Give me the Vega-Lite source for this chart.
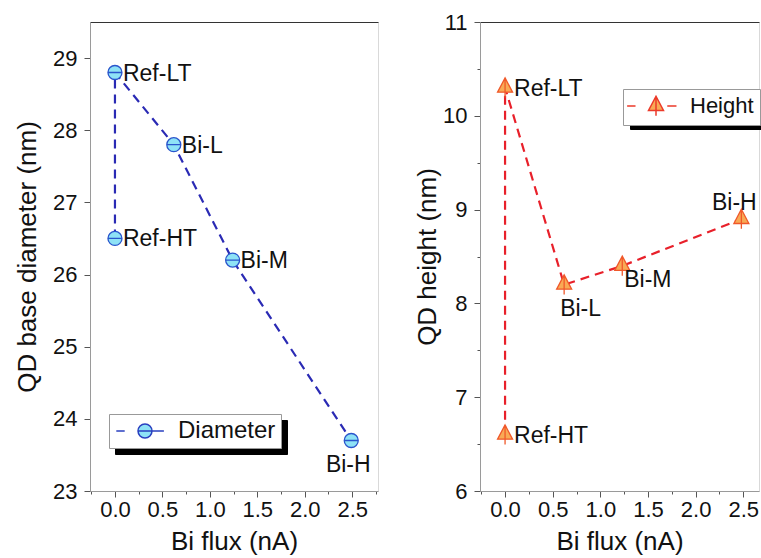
{
  "$schema": "https://vega.github.io/schema/vega-lite/v6.json",
  "padding": {"left": 14, "top": 10, "right": 0, "bottom": 0},
  "bounds": "flush",
  "spacing": 102,
  "resolve": {"scale": {"fill": "independent", "color": "independent"}, "legend": {"fill": "independent", "color": "independent"}},
  "config": {
    "font": "Liberation Sans",
    "view": {"stroke": "#d9d9d9"},
    "axis": {"labelFont": "Liberation Sans", "labelFontSize": 22, "labelColor": "#111", "titleFont": "Liberation Sans", "titleFontSize": 26, "titleFontWeight": "normal", "titleColor": "#111", "domainColor": "#9a9a9a", "tickColor": "#555", "grid": false},
    "legend": {"title": null, "orient": "none", "labelFont": "Liberation Sans", "labelFontSize": 23, "labelColor": "#111", "padding": 5, "symbolStrokeWidth": 1.5, "direction": "vertical"},
    "text": {"font": "Liberation Sans", "fontSize": 23, "color": "#111"}
  },
  "hconcat": [
    {
      "width": 288,
      "height": 469,
      "data": {"values": [
        {"name": "Ref-HT", "flux": 0, "value": 26.5, "series": "Diameter"},
        {"name": "Ref-LT", "flux": 0, "value": 28.8, "series": "Diameter"},
        {"name": "Bi-L", "flux": 0.62, "value": 27.8, "series": "Diameter"},
        {"name": "Bi-M", "flux": 1.24, "value": 26.2, "series": "Diameter"},
        {"name": "Bi-H", "flux": 2.49, "value": 23.7, "series": "Diameter"}
      ]},
      "resolve": {"axis": {"x": "independent"}},
      "layer": [
        {
          "mark": {"type": "line", "strokeDash": [9, 6], "strokeWidth": 2.2, "color": "#2a2ab4"},
          "encoding": {
            "x": {"field": "flux", "type": "quantitative", "scale": {"domain": [-0.263, 2.772], "nice": false, "zero": false},
              "axis": {"orient": "bottom", "title": "Bi flux (nA)", "values": [-0.25, 0, 0.25, 0.5, 0.75, 1, 1.25, 1.5, 1.75, 2, 2.25, 2.5, 2.75],
                "labelExpr": "abs(datum.value*2 - round(datum.value*2)) < 0.001 ? format(datum.value, '.1f') : ''",
                "tickSize": {"condition": {"test": "abs(datum.value*2 - round(datum.value*2)) < 0.001", "value": 6}, "value": 3},
                "labelPadding": 2, "titlePadding": 8}},
            "y": {"field": "value", "type": "quantitative", "scale": {"domain": [23, 29.5], "nice": false, "zero": false},
              "axis": {"title": "QD base diameter (nm)", "values": [23, 23.5, 24, 24.5, 25, 25.5, 26, 26.5, 27, 27.5, 28, 28.5, 29, 29.5],
                "labelExpr": "abs(datum.value - round(datum.value)) < 0.001 ? format(datum.value, 'd') : ''",
                "tickSize": {"condition": {"test": "abs(datum.value - round(datum.value)) < 0.001", "value": 6}, "value": 3},
                "labelPadding": 7, "titlePadding": 12}},
            "order": {"value": null}
          }
        },
        {
          "transform": [{"calculate": "datum.series", "as": "shadow"}],
          "mark": {"type": "point", "opacity": 0},
          "encoding": {
            "x": {"field": "flux", "type": "quantitative", "axis": {"orient": "top", "ticks": false, "labels": false, "title": null, "domainColor": "#333", "domainWidth": 1.2}},
            "y": {"field": "value", "type": "quantitative"},
            "color": {"field": "shadow", "type": "nominal", "scale": {"range": ["black"]},
              "legend": {"legendX": 25, "legendY": 398, "fillColor": "black", "strokeColor": "black", "symbolOpacity": 0, "labelColor": "black", "labelFontSize": 24,
                "symbolType": "M-4.1,0L-2.9,0M1,0L2.7,0M-1,0A1,1 0 1,1 1,0A1,1 0 1,1 -1,0ZM-1,0L1,0", "symbolSize": 196, "symbolOffset": 19, "labelOffset": 21, "zindex": 0}}
          }
        },
        {
          "mark": {"type": "point", "filled": true, "shape": "M-1,0A1,1 0 1,1 1,0A1,1 0 1,1 -1,0ZM-1,0L1,0", "size": 196, "stroke": "#2a55cc", "strokeWidth": 1.3, "opacity": 1},
          "encoding": {
            "x": {"field": "flux", "type": "quantitative", "axis": null},
            "y": {"field": "value", "type": "quantitative"},
            "fill": {"field": "series", "type": "nominal", "scale": {"range": ["#8ee2f6"]},
              "legend": {"legendX": 19, "legendY": 392, "fillColor": "white", "strokeColor": "#999", "symbolStrokeColor": "#2a40c0", "labelFontSize": 24,
                "symbolType": "M-4.1,0L-2.9,0M1,0L2.7,0M-1,0A1,1 0 1,1 1,0A1,1 0 1,1 -1,0ZM-1,0L1,0", "symbolSize": 196, "symbolOffset": 19, "labelOffset": 21, "zindex": 1}}
          }
        },
        {
          "transform": [{"filter": "datum.name != 'Bi-H'"}],
          "mark": {"type": "text", "align": "left", "baseline": "middle", "dx": 8, "dy": 1},
          "encoding": {
            "x": {"field": "flux", "type": "quantitative", "axis": null},
            "y": {"field": "value", "type": "quantitative"},
            "text": {"field": "name"}
          }
        },
        {
          "transform": [{"filter": "datum.name == 'Bi-H'"}],
          "mark": {"type": "text", "align": "center", "baseline": "middle", "dx": -3, "dy": 25},
          "encoding": {
            "x": {"field": "flux", "type": "quantitative", "axis": null},
            "y": {"field": "value", "type": "quantitative"},
            "text": {"field": "name"}
          }
        }
      ]
    },
    {
      "width": 279,
      "height": 469,
      "data": {"values": [
        {"name": "Ref-HT", "flux": 0, "value": 6.6, "series": "Height"},
        {"name": "Ref-LT", "flux": 0, "value": 10.3, "series": "Height"},
        {"name": "Bi-L", "flux": 0.62, "value": 8.2, "series": "Height"},
        {"name": "Bi-M", "flux": 1.23, "value": 8.4, "series": "Height"},
        {"name": "Bi-H", "flux": 2.48, "value": 8.9, "series": "Height"}
      ]},
      "resolve": {"axis": {"x": "independent"}},
      "layer": [
        {
          "mark": {"type": "line", "strokeDash": [9, 6], "strokeWidth": 2.2, "color": "#e8202a"},
          "encoding": {
            "x": {"field": "flux", "type": "quantitative", "scale": {"domain": [-0.263, 2.665], "nice": false, "zero": false},
              "axis": {"orient": "bottom", "title": "Bi flux (nA)", "values": [-0.25, 0, 0.25, 0.5, 0.75, 1, 1.25, 1.5, 1.75, 2, 2.25, 2.5],
                "labelExpr": "abs(datum.value*2 - round(datum.value*2)) < 0.001 ? format(datum.value, '.1f') : ''",
                "tickSize": {"condition": {"test": "abs(datum.value*2 - round(datum.value*2)) < 0.001", "value": 6}, "value": 3},
                "labelPadding": 2, "titlePadding": 8}},
            "y": {"field": "value", "type": "quantitative", "scale": {"domain": [6, 11], "nice": false, "zero": false},
              "axis": {"title": "QD height (nm)", "values": [6, 6.5, 7, 7.5, 8, 8.5, 9, 9.5, 10, 10.5, 11],
                "labelExpr": "abs(datum.value - round(datum.value)) < 0.001 ? format(datum.value, 'd') : ''",
                "tickSize": {"condition": {"test": "abs(datum.value - round(datum.value)) < 0.001", "value": 6}, "value": 3},
                "labelPadding": 7, "titlePadding": 2}},
            "order": {"value": null}
          }
        },
        {
          "transform": [{"calculate": "datum.series", "as": "shadow"}],
          "mark": {"type": "point", "opacity": 0},
          "encoding": {
            "x": {"field": "flux", "type": "quantitative", "axis": {"orient": "top", "ticks": false, "labels": false, "title": null, "domainColor": "#333", "domainWidth": 1.2}},
            "y": {"field": "value", "type": "quantitative"},
            "color": {"field": "shadow", "type": "nominal", "scale": {"range": ["black"]},
              "legend": {"legendX": 150, "legendY": 73, "fillColor": "black", "strokeColor": "black", "symbolOpacity": 0, "labelColor": "black", "labelFontSize": 22, "padding": 6,
                "symbolType": "M-3.85,0L-2.73,0M1.5,0L2.73,0M0,-1.3L1,0.6L-1,0.6ZM0,-1.3L0,1.3", "symbolSize": 225, "symbolOffset": 16, "labelOffset": 23, "zindex": 0}}
          }
        },
        {
          "mark": {"type": "point", "filled": true, "shape": "M0,-1.3L1,0.6L-1,0.6ZM0,-1.3L0,1.3", "size": 225, "stroke": "#f0582a", "strokeWidth": 1.3, "opacity": 1},
          "encoding": {
            "x": {"field": "flux", "type": "quantitative", "axis": null},
            "y": {"field": "value", "type": "quantitative"},
            "fill": {"field": "series", "type": "nominal", "scale": {"range": ["#f8aa55"]},
              "legend": {"legendX": 143, "legendY": 67, "fillColor": "white", "strokeColor": "#999", "symbolStrokeColor": "#ec3a2a", "labelFontSize": 22, "padding": 6,
                "symbolType": "M-3.85,0L-2.73,0M1.5,0L2.73,0M0,-1.3L1,0.6L-1,0.6ZM0,-1.3L0,1.3", "symbolSize": 225, "symbolOffset": 16, "labelOffset": 23, "zindex": 1}}
          }
        },
        {
          "transform": [{"filter": "datum.name == 'Ref-LT' || datum.name == 'Ref-HT'"}],
          "mark": {"type": "text", "align": "left", "baseline": "middle", "dx": 9, "dy": 1},
          "encoding": {
            "x": {"field": "flux", "type": "quantitative", "axis": null},
            "y": {"field": "value", "type": "quantitative"},
            "text": {"field": "name"}
          }
        },
        {
          "transform": [{"filter": "datum.name == 'Bi-H'"}],
          "mark": {"type": "text", "align": "center", "baseline": "middle", "dx": -7, "dy": -16},
          "encoding": {
            "x": {"field": "flux", "type": "quantitative", "axis": null},
            "y": {"field": "value", "type": "quantitative"},
            "text": {"field": "name"}
          }
        },
        {
          "transform": [{"filter": "datum.name == 'Bi-M'"}],
          "mark": {"type": "text", "align": "left", "baseline": "middle", "dx": 2, "dy": 14},
          "encoding": {
            "x": {"field": "flux", "type": "quantitative", "axis": null},
            "y": {"field": "value", "type": "quantitative"},
            "text": {"field": "name"}
          }
        },
        {
          "transform": [{"filter": "datum.name == 'Bi-L'"}],
          "mark": {"type": "text", "align": "left", "baseline": "middle", "dx": -4, "dy": 24},
          "encoding": {
            "x": {"field": "flux", "type": "quantitative", "axis": null},
            "y": {"field": "value", "type": "quantitative"},
            "text": {"field": "name"}
          }
        }
      ]
    }
  ]
}
